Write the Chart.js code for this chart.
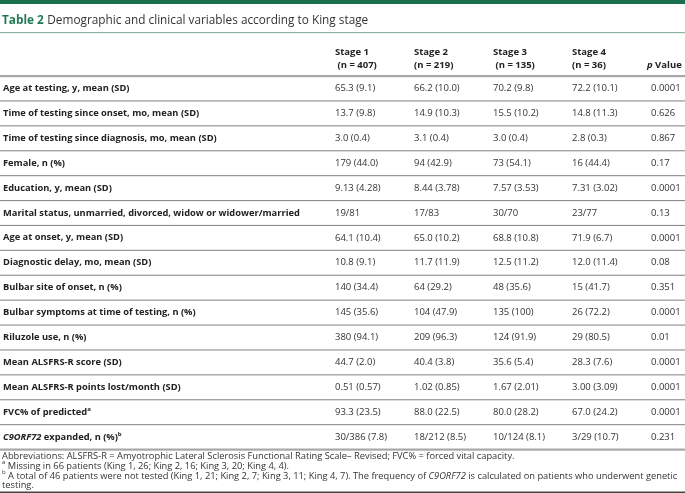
<!DOCTYPE html>
<html><head><meta charset="utf-8">
<script src="https://cdn.jsdelivr.net/npm/chart.js@4/dist/chart.umd.min.js"></script>
<style>html,body{margin:0;padding:0;background:#fff;}#wrap{width:685px;height:493px;position:relative}</style>
</head><body><div id="wrap"><canvas id="c"></canvas></div>
<script>
const titleBold = 'Table 2';
const titleText = 'Demographic and clinical variables according to King stage';
const rowLabels = [
  'Age at testing, y, mean (SD)',
  'Time of testing since onset, mo, mean (SD)',
  'Time of testing since diagnosis, mo, mean (SD)',
  'Female, n (%)',
  'Education, y, mean (SD)',
  'Marital status, unmarried, divorced, widow or widower/married',
  'Age at onset, y, mean (SD)',
  'Diagnostic delay, mo, mean (SD)',
  'Bulbar site of onset, n (%)',
  'Bulbar symptoms at time of testing, n (%)',
  'Riluzole use, n (%)',
  'Mean ALSFRS-R score (SD)',
  'Mean ALSFRS-R points lost/month (SD)',
  'FVC% of predicted^a',
  '*C9ORF72* expanded, n (%)^b'
];
const columnLabels = ['Stage 1', 'Stage 2', 'Stage 3', 'Stage 4', '*p* Value'];
const columnN = [' (n = 407)', '(n = 219)', ' (n = 135)', '(n = 36)', ''];
const stage1 = ['65.3 (9.1)','13.7 (9.8)','3.0 (0.4)','179 (44.0)','9.13 (4.28)','19/81','64.1 (10.4)','10.8 (9.1)','140 (34.4)','145 (35.6)','380 (94.1)','44.7 (2.0)','0.51 (0.57)','93.3 (23.5)','30/386 (7.8)'];
const stage2 = ['66.2 (10.0)','14.9 (10.3)','3.1 (0.4)','94 (42.9)','8.44 (3.78)','17/83','65.0 (10.2)','11.7 (11.9)','64 (29.2)','104 (47.9)','209 (96.3)','40.4 (3.8)','1.02 (0.85)','88.0 (22.5)','18/212 (8.5)'];
const stage3 = ['70.2 (9.8)','15.5 (10.2)','3.0 (0.4)','73 (54.1)','7.57 (3.53)','30/70','68.8 (10.8)','12.5 (11.2)','48 (35.6)','135 (100)','124 (91.9)','35.6 (5.4)','1.67 (2.01)','80.0 (28.2)','10/124 (8.1)'];
const stage4 = ['72.2 (10.1)','14.8 (11.3)','2.8 (0.3)','16 (44.4)','7.31 (3.02)','23/77','71.9 (6.7)','12.0 (11.4)','15 (41.7)','26 (72.2)','29 (80.5)','28.3 (7.6)','3.00 (3.09)','67.0 (24.2)','3/29 (10.7)'];
const pValues = ['0.0001','0.626','0.867','0.17','0.0001','0.13','0.0001','0.08','0.351','0.0001','0.01','0.0001','0.0001','0.0001','0.231'];
const footnotes = [
  'Abbreviations: ALSFRS-R = Amyotrophic Lateral Sclerosis Functional Rating Scale\u2013 Revised; FVC% = forced vital capacity.',
  '^a Missing in 66 patients (King 1, 26; King 2, 16; King 3, 20; King 4, 4).',
  '^b A total of 46 patients were not tested (King 1, 21; King 2, 7; King 3, 11; King 4, 7). The frequency of *C9ORF72* is calculated on patients who underwent genetic',
  'testing.'
];

const FONT = '"Open Sans", "Noto Sans", sans-serif';
const GREEN = '#1b6e4e';

function drawRich(ctx, text, x, y, size, weight, color) {
  const parts = text.split(/(\*[^*]+\*|\^[a-z])/).filter(s => s.length);
  let cx = x;
  ctx.textBaseline = 'middle';
  ctx.textAlign = 'left';
  for (const p of parts) {
    let style = 'normal', s = p, sz = size, dy = 0;
    if (p[0] === '*') { style = 'italic'; s = p.slice(1, -1); }
    else if (p[0] === '^') { s = p.slice(1); sz = size * 0.65; dy = -size * 0.35; }
    ctx.font = style + ' ' + weight + ' ' + sz + 'px ' + FONT;
    ctx.fillStyle = color;
    ctx.fillText(s, cx, y + dy);
    cx += ctx.measureText(s).width;
  }
  return cx;
}

const valueColumns = [stage1, stage2, stage3, stage4, pValues];

const tablePlugin = {
  id: 'tablePlugin',
  afterDatasetsDraw(chart) {
    const ctx = chart.ctx;
    const ys = chart.scales.y, xs = chart.scales.x;
    const W = chart.width;
    const band = ys.getPixelForValue(1) - ys.getPixelForValue(0);
    ctx.save();
    ctx.fillStyle = GREEN;
    ctx.fillRect(0, 0, W, 4);
    const tx = drawRich(ctx, titleBold, 2, 21, 11.8, 'bold', '#1f7a52');
    drawRich(ctx, titleText, tx + 3.5, 21, 11.8, 'normal', '#333');
    ctx.fillStyle = '#8fb3a3';
    ctx.fillRect(0, 32, W, 1.2);
    columnLabels.forEach((lab, i) => {
      const x = xs.getPixelForValue(i);
      if (columnN[i]) {
        drawRich(ctx, lab, x, 52, 9.5, 'bold', '#222');
        drawRich(ctx, columnN[i], x, 65, 9.5, 'bold', '#222');
      } else {
        drawRich(ctx, lab, x - 4, 65, 9.5, 'bold', '#222');
      }
    });
    for (let i = 0; i <= rowLabels.length; i++) {
      const y = ys.getPixelForValue(0) - band / 2 + i * band;
      if (i === 0 || i === rowLabels.length) {
        ctx.fillStyle = '#a8a8a8';
        ctx.fillRect(0, y - 1, W, 2.2);
      } else {
        ctx.fillStyle = '#8c8c8c';
        ctx.fillRect(0, y - 0.5, W, 1.1);
      }
    }
    rowLabels.forEach((lab, r) => {
      drawRich(ctx, lab, 3, ys.getPixelForValue(r), 9.3, 'bold', '#222');
    });
    chart.data.datasets.forEach((ds, di) => {
      const meta = chart.getDatasetMeta(di);
      meta.data.forEach((pt, r) => {
        drawRich(ctx, valueColumns[di][r], pt.x, pt.y, 9.5, 'normal', '#333');
      });
    });
    const fy = [456, 466, 476, 485.5];
    footnotes.forEach((f, i) => drawRich(ctx, f, 2, fy[i], 9.3, 'normal', '#333'));
    ctx.fillStyle = '#444';
    ctx.fillRect(0, 491.5, W, 1.5);
    ctx.restore();
  }
};

const datasets = valueColumns.map((col, ci) => ({
  label: columnLabels[ci],
  data: col.map((v, r) => ({ x: ci, y: rowLabels[r] })),
  pointRadius: 0,
  showLine: false
}));

new Chart(document.getElementById('c'), {
  type: 'scatter',
  data: { datasets },
  options: {
    responsive: true,
    maintainAspectRatio: false,
    animation: false,
    events: [],
    layout: { padding: { left: 335, right: 34, top: 76, bottom: 43.5 } },
    plugins: { legend: { display: false }, tooltip: { enabled: false } },
    scales: {
      x: { type: 'linear', min: 0, max: 4, display: false },
      y: { type: 'category', labels: rowLabels, offset: true, display: false }
    }
  },
  plugins: [tablePlugin]
});
</script></body></html>
